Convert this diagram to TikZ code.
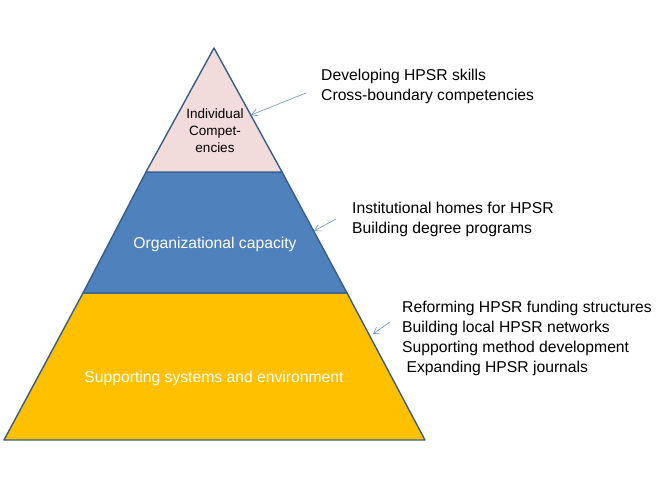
\documentclass[tikz,border=0pt]{standalone}
\usepackage{fontspec}
\setmainfont{Liberation Sans}
\usetikzlibrary{arrows.meta}
\definecolor{pinkfill}{HTML}{F2DCDB}
\definecolor{bluefill}{HTML}{4F81BD}
\definecolor{yellowfill}{HTML}{FFC000}
\definecolor{edge}{HTML}{385D8A}
\definecolor{arrowc}{HTML}{6A93C8}
\tikzset{
  tier/.style={draw=edge, line width=1.4pt, line join=round},
  side/.style={anchor=base west, inner sep=0pt, font=\fontsize{15.7}{20}\selectfont, text=black},
  inlabel/.style={anchor=base, inner sep=0pt, font=\fontsize{15.7}{20}\selectfont, text=white},
  toplabel/.style={anchor=base, inner sep=0pt, font=\fontsize{13.5}{17}\selectfont, text=black},
  pointer/.style={draw=arrowc, line width=0.6pt, -{Straight Barb[length=6pt,width=7pt]}}
}
\begin{document}
\begin{tikzpicture}[x=1pt,y=-1pt]
\useasboundingbox (0,0) rectangle (656,492);
% tiers
\filldraw[tier, fill=yellowfill] (83,293) -- (347,293) -- (425,440) -- (4,440) -- cycle;
\filldraw[tier, fill=bluefill] (146,172) -- (282,172) -- (347,293) -- (83,293) -- cycle;
\filldraw[tier, fill=pinkfill] (214,48) -- (282,172) -- (146,172) -- cycle;
% labels inside
\node[toplabel] (ic1) at (215,119) {Individual};
\node[toplabel] (ic2) at (215,136) {Compet-};
\node[toplabel] (ic3) at (215,153) {encies};
\node[inlabel] (oc) at (215,248) {Organizational capacity};
\node[inlabel] (se) at (214,382) {Supporting systems and environment};
% side texts
\node[side] (a1) at (321,81) {Developing HPSR skills};
\node[side] (a2) at (321,101) {Cross-boundary competencies};
\node[side] (b1) at (352,213) {Institutional homes for HPSR};
\node[side] (b2) at (352,233) {Building degree programs};
\node[side] (c1) at (402,312) {Reforming HPSR funding structures};
\node[side] (c2) at (402,332) {Building local HPSR networks};
\node[side] (c3) at (402,352) {Supporting method development};
\node[side] (c4) at (402,372) {\ Expanding HPSR journals};
% pointers
\coordinate (p1s) at (306,93);
\coordinate (p1e) at (251,115);
\coordinate (p2s) at (336,219);
\coordinate (p2e) at (314,231);
\coordinate (p3s) at (390,322);
\coordinate (p3e) at (373,334);
\draw[pointer] (p1s) -- (p1e);
\draw[pointer] (p2s) -- (p2e);
\draw[pointer] (p3s) -- (p3e);
\end{tikzpicture}
\end{document}
